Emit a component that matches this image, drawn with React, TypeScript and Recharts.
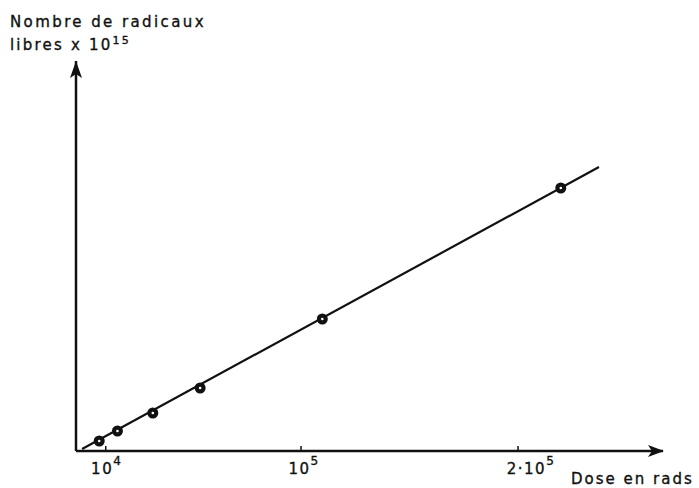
import { ScatterChart, Scatter, XAxis, YAxis } from 'recharts'

// measured points (dose in rads, radicals x 10^15, arbitrary units of the plot)
const doses = [7000, 15400, 31700, 53500, 109800, 219700]
const radicals = [1.0, 2.0, 3.8, 6.3, 13.2, 26.3]

// straight fit drawn through them
const fitDoses = [-900, 237300]
const fitRadicals = [0.2, 28.4]

const tickValues = [10000, 100000, 200000]
const tickBase = ['10', '10', '2·10']
const tickExp = ['4', '5', '5']

const points = doses.map((d, i) => ({ dose: d, rad: radicals[i] }))
const fit = fitDoses.map((d, i) => ({ dose: d, rad: fitRadicals[i] }))

const FONT = '"DejaVu Sans", sans-serif'
const INK = '#111'

function DoseTick(props: any) {
  const { x, y, payload } = props
  const i = tickValues.indexOf(payload.value)
  const shift = [1, 3, 13][i] ?? 0
  return (
    <g>
      <line x1={x} x2={x} y1={y} y2={y - 5} stroke={INK} strokeWidth={1.5} />
      <text x={x + shift} y={y + 23} textAnchor="middle" fontFamily={FONT} fontSize={15} letterSpacing={1.5}
        fill={INK} stroke={INK} strokeWidth={0.35}>
        {tickBase[i]}
        <tspan dy={-9} fontSize={12}>{tickExp[i]}</tspan>
      </text>
    </g>
  )
}

function Dot(props: any) {
  const { cx, cy } = props
  return (
    <g>
      <circle cx={cx} cy={cy} r={5.5} fill={INK} />
      <circle cx={cx} cy={cy} r={1.3} fill="#fff" />
    </g>
  )
}

export default function App() {
  return (
    <div style={{ position: 'absolute', left: 0, top: 0, width: 699, height: 488, background: '#fff' }}>
      <ScatterChart width={699} height={488} margin={{ top: 61, right: 36, bottom: 0, left: 0 }}>
        <XAxis
          type="number"
          dataKey="dose"
          domain={[-3700, 266800]}
          ticks={tickValues}
          tick={<DoseTick />}
          tickLine={false}
          tickSize={0}
          tickMargin={0}
          height={37}
          axisLine={{ stroke: INK, strokeWidth: 2.5 }}
        />
        <YAxis
          type="number"
          dataKey="rad"
          domain={[0, 39]}
          width={76}
          tick={false}
          tickLine={false}
          axisLine={{ stroke: INK, strokeWidth: 2.5 }}
        />
        <Scatter data={fit} line={{ stroke: INK, strokeWidth: 2.2 }} shape={() => <g />} isAnimationActive={false} />
        <Scatter data={points} shape={<Dot />} isAnimationActive={false} />
      </ScatterChart>
      <svg width={699} height={488} style={{ position: 'absolute', left: 0, top: 0, pointerEvents: 'none' }}>
        <polygon points="76,61 70,78 76,74 82,78" fill={INK} />
        <polygon points="664,451 648,445 652,451 648,457" fill={INK} />
        <g fontFamily={FONT} fontSize={15} fill={INK} stroke={INK} strokeWidth={0.35}>
          <text x={10} y={27} letterSpacing={2.4}>Nombre de radicaux</text>
          <text x={10} y={50} letterSpacing={2.2}>
            libres x 10<tspan dy={-6} fontSize={11}>15</tspan>
          </text>
          <text x={571} y={484} letterSpacing={2}>Dose en rads</text>
        </g>
      </svg>
    </div>
  )
}
